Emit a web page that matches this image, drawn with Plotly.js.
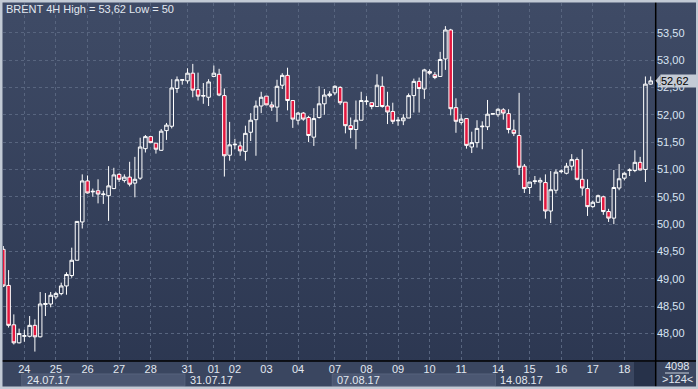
<!DOCTYPE html>
<html><head><meta charset="utf-8">
<script src="https://cdn.plot.ly/plotly-3.0.1.min.js"></script>
<style>
html,body{margin:0;padding:0;background:#c2cad5;}
#chart{width:698px;height:389px;background:linear-gradient(to bottom,#3f4b66 0%,#2b3650 100%);}
</style></head>
<body><div id="chart"></div>
<script>
// 4H candles, BRENT, 21.07.17 - 18.08.17
const openP = [49.54,48.88,48.16,47.83,47.95,47.95,48.15,47.94,48.53,48.54,48.67,48.73,48.87,49.06,49.34,50.04,50.79,50.59,50.61,50.54,
50.52,50.65,50.91,50.80,50.86,50.75,50.84,51.38,51.60,51.48,51.35,51.71,51.79,52.48,52.63,52.62,52.76,52.46,52.34,52.32,
52.70,52.74,52.35,51.26,51.45,51.43,51.33,51.68,51.91,52.16,52.34,52.18,52.14,52.54,52.72,52.26,51.90,52.03,51.95,51.59,
51.95,52.20,52.35,52.40,52.50,52.23,51.80,51.73,51.90,52.24,52.22,52.15,52.52,52.16,52.06,51.89,51.89,51.94,52.35,52.61,
52.47,52.79,52.73,52.70,53.02,53.55,52.13,51.86,51.93,51.41,51.49,51.78,51.78,52.01,52.00,52.09,52.02,51.72,51.62,51.06,
50.67,50.78,50.77,50.76,50.24,50.62,50.96,50.93,51.06,51.18,50.82,50.65,50.32,50.40,50.50,50.23,50.11,50.66,50.84,50.98,
50.98,51.13,51.00,52.56];
const highP = [49.60,49.16,48.35,48.09,48.07,48.32,48.26,48.76,48.74,48.76,48.76,48.93,49.12,49.57,50.05,50.91,50.89,50.65,50.82,50.61,
51.06,51.03,50.93,50.91,51.14,51.23,51.58,51.63,51.60,51.48,51.74,51.85,52.65,52.70,52.65,52.85,52.93,52.77,52.58,52.65,
52.90,52.84,52.48,51.87,51.56,51.51,51.80,52.03,52.26,52.42,52.34,52.24,52.64,52.76,52.86,52.27,52.05,52.05,51.98,52.12,
52.52,52.47,52.43,52.54,52.52,52.23,51.95,52.26,52.42,52.34,52.22,52.74,52.70,52.42,52.22,51.96,52.01,52.39,52.66,52.68,
52.84,52.83,52.78,53.15,53.62,53.57,52.30,52.01,51.93,51.69,51.90,51.88,52.27,52.02,52.12,52.12,52.10,51.91,52.40,51.10,
50.77,50.88,50.85,50.91,50.97,51.00,51.00,51.12,51.28,51.22,51.37,50.82,50.43,50.54,50.52,50.28,50.99,51.10,50.95,51.02,
51.35,51.23,52.70,52.70];
const lowP = [48.85,48.11,47.80,47.82,47.85,47.93,47.67,47.93,48.32,48.48,48.63,48.70,48.71,49.02,49.34,49.92,50.56,50.50,50.38,50.37,
50.06,50.64,50.77,50.76,50.69,50.49,50.81,51.31,51.49,51.29,51.34,51.54,51.75,52.40,52.55,52.57,52.32,52.26,52.20,52.16,
52.70,52.34,50.87,51.16,51.37,51.25,51.16,51.52,51.25,52.03,52.18,52.07,51.87,52.47,52.08,51.76,51.82,51.89,51.50,51.43,
51.93,52.00,52.32,52.36,52.18,51.66,51.57,51.37,51.90,52.18,52.10,52.15,52.13,51.83,51.83,51.80,51.81,51.94,52.04,52.04,
52.29,52.73,52.65,52.69,52.82,51.99,51.67,51.82,51.38,51.30,51.40,51.37,51.72,52.00,51.96,51.91,51.66,51.61,50.90,50.57,
50.55,50.73,50.43,50.10,50.02,50.56,50.93,50.91,50.98,50.80,50.52,50.15,50.30,50.39,50.17,50.04,50.00,50.62,50.80,50.88,
50.95,50.98,50.77,52.55];
const closeP = [48.87,48.15,47.83,48.00,47.96,48.15,47.94,48.54,48.55,48.70,48.73,48.87,49.08,49.34,50.05,50.79,50.57,50.60,50.55,50.55,
50.70,50.90,50.82,50.86,50.73,50.82,51.41,51.60,51.49,51.37,51.70,51.81,52.49,52.64,52.64,52.76,52.45,52.34,52.35,52.60,
52.76,52.36,51.25,51.45,51.46,51.34,51.66,51.90,52.16,52.32,52.18,52.14,52.52,52.72,52.26,51.92,52.03,51.92,51.62,51.93,
52.20,52.36,52.38,52.52,52.22,51.80,51.73,51.90,52.26,52.25,52.15,52.54,52.15,52.05,51.88,51.90,51.94,52.35,52.61,52.48,
52.82,52.76,52.68,53.01,53.55,52.11,51.88,51.92,51.44,51.49,51.75,51.79,52.01,52.02,52.10,52.03,51.73,51.66,51.04,50.65,
50.77,50.79,50.80,50.24,50.63,50.95,50.97,51.06,51.18,50.82,50.66,50.32,50.40,50.52,50.23,50.11,50.67,50.83,50.93,50.99,
51.13,50.99,52.56,52.62];

const dayLabels = ['24','25','26','27','28','31','01','02','03','04','07','08','09','10','11','14','15','16','17','18'];
const dayIdx = [4,10,16,22,28,35,40,44,50,56,63,69,75,81,87,94,100,106,112,118];
const weekLabels = ['24.07.17','31.07.17','07.08.17','14.08.17'];
const weekIdx = [4,35,63,94];
const yTicks = [48,48.5,49,49.5,50,50.5,51,51.5,52,52.5,53,53.5];
const lastPrice = 52.62;
const titleText = 'BRENT 4H High = 53,62 Low = 50';
const barsTotal = '4098';
const barsVisible = '&gt;124&lt;';

const idx = openP.map((_, i) => i);

// geometry helpers (pixels -> paper)
const L = 3, R = 42, T = 3, B = 28, W = 698, H = 389;
const pw = W - L - R, ph = H - T - B;
const px = x => (x - L) / pw;
const py = y => (H - B - y) / ph;
const FONT = '"Liberation Sans Narrow","Liberation Sans",Arial,sans-serif';

const trace = {
  type: 'candlestick', x: idx, open: openP, high: highP, low: lowP, close: closeP,
  increasing: {line: {color: '#ffffff', width: 1}, fillcolor: 'rgba(0,0,0,0)'},
  decreasing: {line: {color: '#ffffff', width: 1}, fillcolor: '#e3173e'},
  whiskerwidth: 0, hoverinfo: 'skip', showlegend: false
};

const shapes = [];
function rect(x0, y0, x1, y1, color, layer) {
  shapes.push({type: 'rect', xref: 'paper', yref: 'paper', x0: px(x0), x1: px(x1), y0: py(y1), y1: py(y0),
    fillcolor: color, line: {width: 0}, layer: layer || 'below'});
}
// bottom rows
rect(0, 361, 698, 387, '#3a4660');
for (let k = 0; k < weekIdx.length; k++) {
  if (k % 2 === 0) {
    const xs = weekIdx[k] - 0.5, xe = (k + 1 < weekIdx.length ? weekIdx[k + 1] : 122) - 0.5;
    shapes.push({type: 'rect', xref: 'x', yref: 'paper', x0: xs, x1: xe, y0: py(386), y1: py(374),
      fillcolor: '#4b5772', line: {color: '#56627c', width: 1}, layer: 'below'});
  }
}
rect(634, 362, 655.5, 386, '#27324a');
// separators
shapes.push({type: 'line', xref: 'paper', yref: 'paper', x0: px(0), x1: px(698), y0: py(361), y1: py(361), line: {color: '#000000', width: 1.5}, layer: 'above'});
shapes.push({type: 'line', xref: 'paper', yref: 'paper', x0: px(655.7), x1: px(655.7), y0: py(2), y1: py(386.5), line: {color: '#000000', width: 1.5}, layer: 'above'});
shapes.push({type: 'line', xref: 'paper', yref: 'paper', x0: px(665), x1: px(689), y0: py(373), y1: py(373), line: {color: '#c9d1dc', width: 1}, layer: 'above'});
// outer frame
rect(0, 0, 698, 2.5, '#c2cad5', 'above');
rect(0, 0, 2.5, 389, '#c2cad5', 'above');
rect(0, 386.5, 698, 389, '#c2cad5', 'above');
rect(696, 0, 698, 389, '#c2cad5', 'above');
// price pointer
const dy = 6 / 54.7;
shapes.push({type: 'path', xref: 'paper', yref: 'y',
  path: `M ${px(655.5)},${lastPrice} L ${px(660.5)},${lastPrice + dy} L ${px(660.5)},${lastPrice - dy} Z`,
  fillcolor: '#c4cbd5', line: {width: 0}, layer: 'above'});

const annotations = [
  {xref: 'paper', yref: 'paper', x: px(4), y: py(8.5), xanchor: 'left', yanchor: 'middle', showarrow: false,
   text: titleText, font: {family: FONT, size: 11, color: '#e2e8f0'}},
  {xref: 'paper', yref: 'y', x: px(660), y: lastPrice, xanchor: 'left', yanchor: 'middle', showarrow: false,
   text: '52,62', bgcolor: '#c4cbd5', borderpad: 0, width: 35, height: 12, align: 'left',
   font: {family: FONT, size: 11, color: '#000000'}},
  {xref: 'paper', yref: 'paper', x: px(677), y: py(366), xanchor: 'center', yanchor: 'middle', showarrow: false,
   text: barsTotal, font: {family: FONT, size: 11, color: '#e2e8f0'}},
  {xref: 'paper', yref: 'paper', x: px(677), y: py(378.5), xanchor: 'center', yanchor: 'middle', showarrow: false,
   text: barsVisible, font: {family: FONT, size: 11, color: '#e2e8f0'}}
];
weekLabels.forEach((t, k) => annotations.push({xref: 'x', yref: 'paper', x: weekIdx[k] - 0.5, y: py(380),
  xanchor: 'left', yanchor: 'middle', xshift: 3, showarrow: false, text: t,
  font: {family: FONT, size: 11, color: '#e2e8f0'}}));

const layout = {
  width: W, height: H,
  margin: {l: L, r: R, t: T, b: B, pad: 0},
  paper_bgcolor: 'rgba(0,0,0,0)', plot_bgcolor: 'rgba(0,0,0,0)',
  separators: ', ',
  showlegend: false,
  boxgap: 0.1, boxgroupgap: 0.25,
  font: {family: FONT, size: 11, color: '#e2e8f0'},
  xaxis: {
    type: 'linear', range: [-0.06, 124.01], fixedrange: true,
    rangeslider: {visible: false},
    tickmode: 'array', tickvals: dayIdx, ticktext: dayLabels,
    ticks: '', showline: false, zeroline: false,
    showgrid: true, gridcolor: '#58657f', griddash: 'dot', gridwidth: 1,
    tickfont: {family: FONT, size: 11, color: '#e2e8f0'}
  },
  yaxis: {
    side: 'right', range: [47.498, 54.043], fixedrange: true,
    tickmode: 'array', tickvals: yTicks, tickformat: '.2f',
    ticks: '', showline: false, zeroline: false,
    showgrid: true, gridcolor: '#58657f', griddash: 'dot', gridwidth: 1,
    tickfont: {family: FONT, size: 11, color: '#d9e4f3'}
  },
  shapes: shapes,
  annotations: annotations
};

Plotly.newPlot('chart', [trace], layout, {staticPlot: true, displayModeBar: false});
</script>
</body></html>
